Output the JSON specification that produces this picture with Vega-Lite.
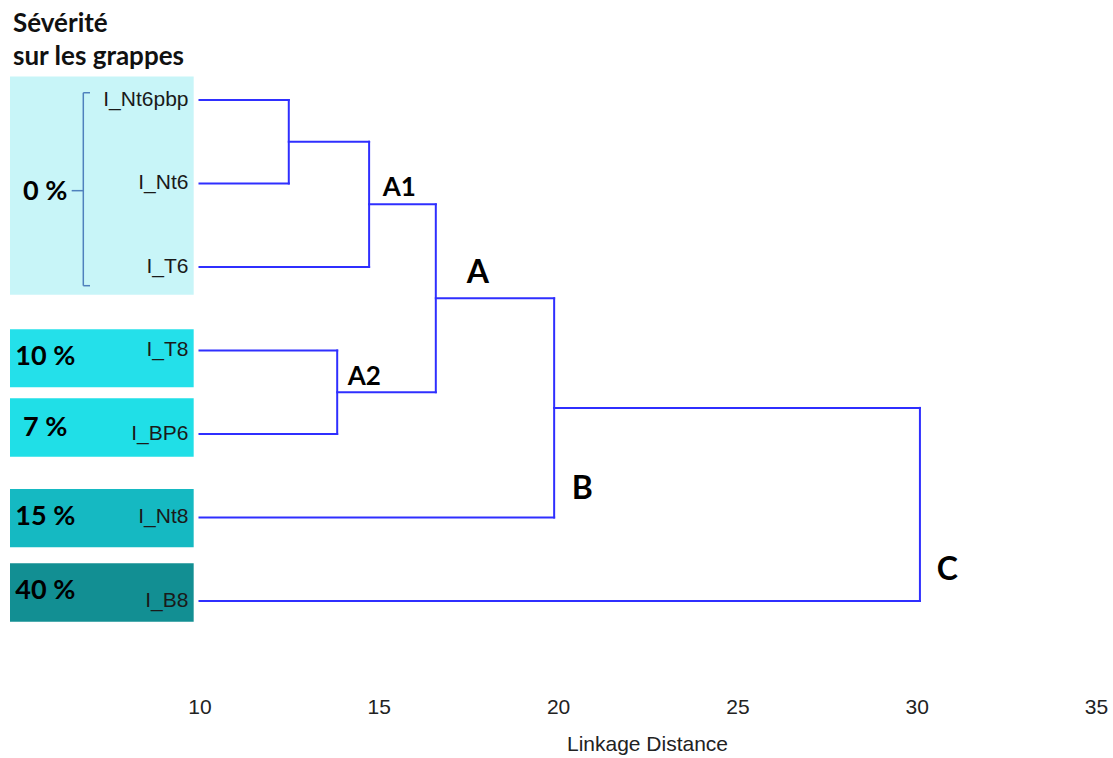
{
  "$schema": "https://vega.github.io/schema/vega-lite/v6.json",
  "width": 1113,
  "height": 690,
  "autosize": "none",
  "padding": {"left": 0, "top": 0, "right": 0, "bottom": 68},
  "background": "white",
  "config": {
    "view": {"stroke": null},
    "axisX": {"grid": false, "ticks": false, "domain": false, "labelFont": "Liberation Sans", "labelFontSize": 21, "labelColor": "#222222", "labelPadding": 6,
      "titleFont": "Liberation Sans", "titleFontSize": 21, "titleFontWeight": "normal", "titleColor": "#222222", "titlePadding": 16, "titleX": 647, "titleAnchor": "start", "titleAlign": "center", "labelFlush": false}
  },
  "datasets": {
    "leaves": [
      {"leaf": "I_Nt6pbp", "pos": 0},
      {"leaf": "I_Nt6", "pos": 1},
      {"leaf": "I_T6", "pos": 2},
      {"leaf": "I_T8", "pos": 3},
      {"leaf": "I_BP6", "pos": 4},
      {"leaf": "I_Nt8", "pos": 5},
      {"leaf": "I_B8", "pos": 6}
    ],
    "links": [
      {"x": 10, "x2": 12.49, "y": 0, "y2": 0},
      {"x": 10, "x2": 12.49, "y": 1, "y2": 1},
      {"x": 12.49, "x2": 12.49, "y": 0, "y2": 1},
      {"x": 12.49, "x2": 14.73, "y": 0.5, "y2": 0.5},
      {"x": 10, "x2": 14.73, "y": 2, "y2": 2},
      {"x": 14.73, "x2": 14.73, "y": 0.5, "y2": 2},
      {"x": 14.73, "x2": 16.59, "y": 1.25, "y2": 1.25},
      {"x": 10, "x2": 13.84, "y": 3, "y2": 3},
      {"x": 10, "x2": 13.84, "y": 4, "y2": 4},
      {"x": 13.84, "x2": 13.84, "y": 3, "y2": 4},
      {"x": 13.84, "x2": 16.59, "y": 3.5, "y2": 3.5},
      {"x": 16.59, "x2": 16.59, "y": 1.25, "y2": 3.5},
      {"x": 16.59, "x2": 19.89, "y": 2.375, "y2": 2.375},
      {"x": 10, "x2": 19.89, "y": 5, "y2": 5},
      {"x": 19.89, "x2": 19.89, "y": 2.375, "y2": 5},
      {"x": 19.89, "x2": 30.09, "y": 3.6875, "y2": 3.6875},
      {"x": 10, "x2": 30.09, "y": 6, "y2": 6},
      {"x": 30.09, "x2": 30.09, "y": 3.6875, "y2": 6}
    ],
    "severity": [
      {"sev": "0 %", "y0": -0.28, "y1": 2.332, "ymid": 1.1},
      {"sev": "10 %", "y0": 2.746, "y1": 3.441, "ymid": 3.074},
      {"sev": "7 %", "y0": 3.572, "y1": 4.272, "ymid": 3.928},
      {"sev": "15 %", "y0": 4.659, "y1": 5.357, "ymid": 4.99},
      {"sev": "40 %", "y0": 5.549, "y1": 6.248, "ymid": 5.88}
    ],
    "bracket": [
      {"x": 6.76, "x2": 6.76, "y": -0.087, "y2": 2.224},
      {"x": 6.76, "x2": 6.947, "y": -0.087, "y2": -0.087},
      {"x": 6.76, "x2": 6.947, "y": 2.224, "y2": 2.224},
      {"x": 6.436, "x2": 6.76, "y": 1.086, "y2": 1.086}
    ],
    "notes": [
      {"label": "Sévérité", "x": 4.8, "y": -0.81, "kind": "title"},
      {"label": "sur les grappes", "x": 4.8, "y": -0.425, "kind": "title"},
      {"label": "A1", "x": 15.109, "y": 1.15, "kind": "sub"},
      {"label": "A2", "x": 14.133, "y": 3.413, "kind": "sub"},
      {"label": "A", "x": 17.451, "y": 2.188, "kind": "main"},
      {"label": "B", "x": 20.38, "y": 4.782, "kind": "main"},
      {"label": "C", "x": 30.558, "y": 5.749, "kind": "main"}
    ]
  },
  "layer": [
    {
      "data": {"name": "severity"},
      "mark": {"type": "rect"},
      "encoding": {
        "x": {"datum": 4.716, "type": "quantitative",
          "scale": {"domain": [4.437, 35.474], "nice": false, "zero": false},
          "axis": {"values": [10, 15, 20, 25, 30, 35], "title": "Linkage Distance"}},
        "x2": {"datum": 9.838},
        "y": {"field": "y0", "type": "quantitative",
          "scale": {"domain": [-1.1976, 7.066], "nice": false, "zero": false, "reverse": true}, "axis": null},
        "y2": {"field": "y1"},
        "color": {"field": "sev", "type": "nominal",
          "scale": {"domain": ["0 %", "10 %", "7 %", "15 %", "40 %"], "range": ["#c8f5f8", "#24e0ea", "#20dfe7", "#15b9c2", "#128f93"]}, "legend": null}
      }
    },
    {
      "data": {"name": "bracket"},
      "mark": {"type": "rule", "color": "#4f81bd", "strokeWidth": 1.5},
      "encoding": {
        "x": {"field": "x", "type": "quantitative", "axis": {"values": [10, 15, 20, 25, 30, 35], "title": "Linkage Distance"}},
        "x2": {"field": "x2"},
        "y": {"field": "y", "type": "quantitative", "axis": null},
        "y2": {"field": "y2"}
      }
    },
    {
      "data": {"name": "links"},
      "mark": {"type": "rule", "color": "#2f2fff", "strokeWidth": 2, "strokeCap": "square"},
      "encoding": {
        "x": {"field": "x", "type": "quantitative", "axis": {"values": [10, 15, 20, 25, 30, 35], "title": "Linkage Distance"}},
        "x2": {"field": "x2"},
        "y": {"field": "y", "type": "quantitative", "axis": null},
        "y2": {"field": "y2"}
      }
    },
    {
      "data": {"name": "leaves"},
      "mark": {"type": "text", "align": "right", "baseline": "middle", "dx": -11, "font": "Liberation Sans", "fontSize": 21, "color": "#1a1a1a"},
      "encoding": {
        "x": {"datum": 10, "type": "quantitative", "axis": {"values": [10, 15, 20, 25, 30, 35], "title": "Linkage Distance"}},
        "y": {"field": "pos", "type": "quantitative", "axis": null},
        "text": {"field": "leaf"}
      }
    },
    {
      "data": {"name": "severity"},
      "mark": {"type": "text", "align": "center", "baseline": "middle", "font": "Lato", "fontWeight": "bold", "fontSize": 27, "color": "#000000"},
      "encoding": {
        "x": {"datum": 5.70, "type": "quantitative", "axis": {"values": [10, 15, 20, 25, 30, 35], "title": "Linkage Distance"}},
        "y": {"field": "ymid", "type": "quantitative", "axis": null},
        "text": {"field": "sev"}
      }
    },
    {
      "data": {"name": "notes"},
      "transform": [{"filter": "datum.kind === 'title'"}],
      "mark": {"type": "text", "align": "left", "baseline": "alphabetic", "font": "Lato", "fontWeight": "bold", "fontSize": 26, "color": "#111111"},
      "encoding": {
        "x": {"field": "x", "type": "quantitative", "axis": {"values": [10, 15, 20, 25, 30, 35], "title": "Linkage Distance"}},
        "y": {"field": "y", "type": "quantitative", "axis": null},
        "text": {"field": "label"}
      }
    },
    {
      "data": {"name": "notes"},
      "transform": [{"filter": "datum.kind === 'sub'"}],
      "mark": {"type": "text", "align": "left", "baseline": "alphabetic", "font": "Lato", "fontWeight": "bold", "fontSize": 26, "color": "#000000"},
      "encoding": {
        "x": {"field": "x", "type": "quantitative", "axis": {"values": [10, 15, 20, 25, 30, 35], "title": "Linkage Distance"}},
        "y": {"field": "y", "type": "quantitative", "axis": null},
        "text": {"field": "label"}
      }
    },
    {
      "data": {"name": "notes"},
      "transform": [{"filter": "datum.kind === 'main'"}],
      "mark": {"type": "text", "align": "left", "baseline": "alphabetic", "font": "Lato", "fontWeight": "bold", "fontSize": 32, "color": "#000000"},
      "encoding": {
        "x": {"field": "x", "type": "quantitative", "axis": {"values": [10, 15, 20, 25, 30, 35], "title": "Linkage Distance"}},
        "y": {"field": "y", "type": "quantitative", "axis": null},
        "text": {"field": "label"}
      }
    }
  ]
}
